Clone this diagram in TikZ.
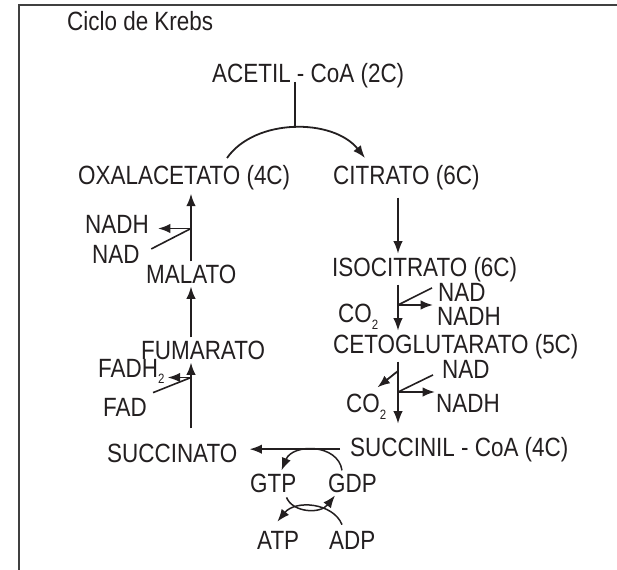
\documentclass[tikz,border=0pt]{standalone}
\usepackage{fontspec}
\setmainfont{Liberation Sans}[FakeStretch=0.85]
\usetikzlibrary{arrows.meta}
\definecolor{Ink}{HTML}{231F20}
\newcommand{\subtwo}[1][7pt]{\raisebox{-#1}{\fontsize{13.5}{13.5}\selectfont 2}}

\begin{document}
\begin{tikzpicture}[x=1pt,y=-1pt,
    lbl/.style={anchor=base west,inner xsep=0pt,inner ysep=3pt,
      font=\fontsize{26.4}{30}\selectfont,text=Ink},
    arr/.style={-{Latex[length=12.5pt,width=9.5pt]},line width=1.8pt,Ink},
    link/.style={line width=1.6pt,Ink},
    frame/.style={line width=2.5pt,black!75}
  ]
  \useasboundingbox (0,0) rectangle (617,569);
  \draw[frame] (19,575) -- (19,5) -- (625,5);

  % metabolites
  \node[lbl] (title) at (67,31) {Ciclo de Krebs};
  \node[lbl] (acetil) at (212,83) {ACETIL - CoA (2C)};
  \node[lbl] (oxal) at (78,185) {OXALACETATO (4C)};
  \node[lbl] (citrato) at (333,185) {CITRATO (6C)};
  \node[lbl] (isocit) at (332,276) {ISOCITRATO (6C)};
  \node[lbl] (ceto) at (333,353) {CETOGLUTARATO (5C)};
  \node[lbl] (succinil) at (350,456) {SUCCINIL - CoA (4C)};
  \node[lbl] (succinato) at (107,462) {SUCCINATO};
  \node[lbl] (fumarato) at (141,359) {FUMARATO};
  \node[lbl] (malato) at (146,283) {MALATO};

  % cofactors
  \node[lbl] (nadhA) at (85,233) {NADH};
  \node[lbl] (nadA) at (92,263) {NAD};
  \node[lbl] (fadh) at (98,377) {FADH\subtwo[6pt]};
  \node[lbl] (fad) at (103,416) {FAD};
  \node[lbl] (nadB) at (438,301) {NAD};
  \node[lbl] (nadhB) at (437,325.5) {NADH};
  \node[lbl] (co2A) at (338,322) {CO\subtwo};
  \node[lbl] (nadC) at (442,378) {NAD};
  \node[lbl] (nadhC) at (436,412) {NADH};
  \node[lbl] (co2B) at (346,412) {CO\subtwo};
  \node[lbl] (gtp) at (250,492) {GTP};
  \node[lbl] (gdp) at (328,492) {GDP};
  \node[lbl] (atp) at (257,549) {ATP};
  \node[lbl] (adp) at (329,549) {ADP};

  % columns and branch points
  \coordinate (colL) at (191,0);
  \coordinate (colR) at (398,0);
  \coordinate (jA) at (191,228.5);
  \coordinate (jF) at (191,377.5);
  \coordinate (jB) at (398,305);
  \coordinate (jC) at (398,392);
  \coordinate (jD) at (398,371);
  \coordinate (arcL) at (227,158);
  \coordinate (arcR) at (365,158);
  \coordinate (stemTop) at (295,82);

  % acetil-CoA enters
  \draw[arr] (arcL) .. controls (255,118) and (333,118) .. (arcR)
    coordinate[pos=0.5] (arcTop);
  \draw[link] (stemTop) -- (stemTop |- arcTop);

  % main cycle
  \draw[arr,shorten <=4pt] (citrato.south -| colR) -- (isocit.north -| colR);
  \draw[arr] (isocit.south -| colR) -- (ceto.north -| colR);
  \draw[arr,shorten >=10pt] (ceto.south -| colR) -- (succinil.north -| colR);
  \draw[arr,shorten <=10pt,shorten >=12pt] (succinil.west) -- (succinil.west -| succinato.east);
  \draw[arr,shorten <=12pt] (succinato.north -| colL) -- (fumarato.south -| colL);
  \draw[arr] (fumarato.north -| colL) -- (malato.south -| colL);
  \draw[arr] (malato.north -| colL) -- (oxal.south -| colL);

  % cofactors in and out
  \draw[link] ([xshift=11.5pt,yshift=5pt]nadA.east) -- (jA);
  \draw[arr,shorten >=9pt] (jA) -- (jA -| nadhA.east);
  \draw[link] ([xshift=6pt,yshift=2pt]fad.north east) -- (jF);
  \draw[arr,shorten >=3pt] (jF) -- (jF -| fadh.east);
  \draw[link] ([xshift=-6pt,yshift=4pt]nadB.west) -- (jB);
  \draw[arr,shorten >=4pt] (jB) -- (jB -| nadhB.west);
  \draw[link] ([xshift=-9pt,yshift=-6pt]nadC.west) -- (jC);
  \draw[arr,shorten >=1pt] (jC) -- (jC -| nadhC.west);
  \draw[arr] (jD) -- ([xshift=-9pt,yshift=3pt]co2B.north east);

  % GTP / ATP exchange
  \draw[arr,line width=1.5pt] ([xshift=14pt]gdp.north west)
    .. controls +(-4,-27) and +(11,-27) .. ([xshift=-15pt]gtp.north east);
  \draw[arr,line width=1.5pt] ([xshift=-10pt,yshift=-2pt]gtp.south east)
    .. controls +(6,15) and +(-15,19) .. ([xshift=7pt]gdp.south west);
  \draw[arr,line width=1.5pt] ([xshift=13pt,yshift=3pt]adp.north west)
    .. controls +(-9,-22) and +(18,-22) .. ([xshift=-22pt,yshift=6pt]atp.north east);
\end{tikzpicture}
\end{document}
